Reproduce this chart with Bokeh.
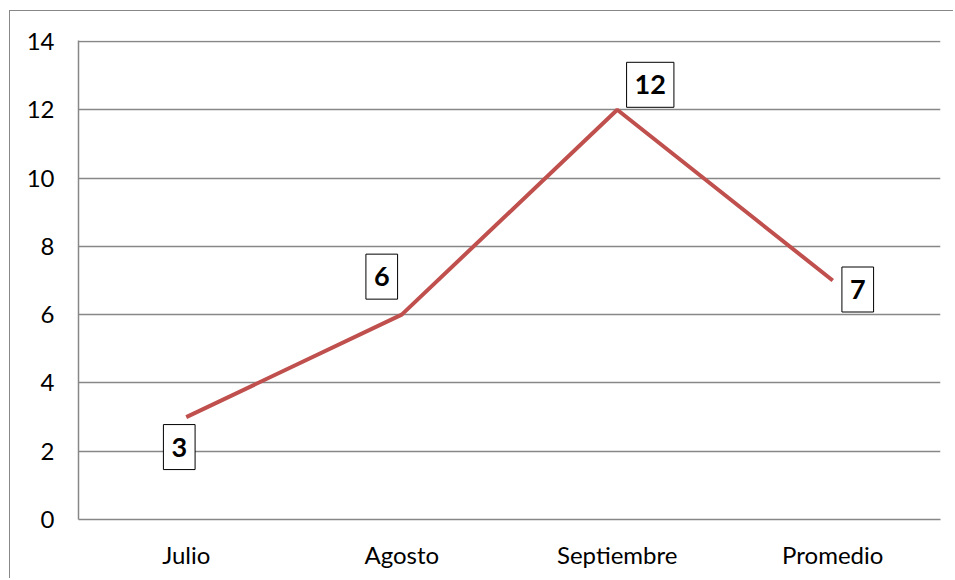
from bokeh.plotting import figure
from bokeh.models import Label, FixedTicker, Range1d
from bokeh.embed import file_html
from bokeh.resources import INLINE

categories = ["Julio", "Agosto", "Septiembre", "Promedio"]
values = [3, 6, 12, 7]
y_ticks = [0, 2, 4, 6, 8, 10, 12, 14]

FONT = "Lato"

p = figure(x_range=categories, y_range=Range1d(0, 14.03),
           width=944, height=568, output_backend="svg", toolbar_location=None,
           min_border_left=68, min_border_top=29, min_border_right=14, min_border_bottom=60)
p.styles = {"border-left": "1px solid #888888", "border-top": "1px solid #888888",
            "margin-left": "9px", "margin-top": "10px"}
p.outline_line_color = None
p.background_fill_color = "white"
p.border_fill_color = "white"

p.line(categories, values, line_color="#C0504D", line_width=4)

p.yaxis.ticker = FixedTicker(ticks=y_ticks)
for ax in (p.xaxis, p.yaxis):
    ax.axis_line_color = "#878787"
    ax.axis_line_width = 1.5
    ax.major_tick_in = 0
    ax.major_tick_out = 0
    ax.minor_tick_in = 0
    ax.minor_tick_out = 0
    ax.major_label_text_font = FONT
    ax.major_label_text_font_size = "24px"
    ax.major_label_text_color = "black"
p.yaxis.major_label_standoff = 24
p.xaxis.major_label_standoff = 20
p.xgrid.grid_line_color = None
p.ygrid.grid_line_color = "#878787"
p.ygrid.grid_line_width = 1.5

offsets = [(-7, -30), (-20, 38), (33, 25), (25, -9)]
for i, (cat, v, (dx, dy)) in enumerate(zip(categories, values, offsets)):
    p.add_layout(Label(x=i + 0.5, y=v, text=str(v), x_offset=dx, y_offset=dy,
                       text_align="center", text_baseline="middle",
                       text_font=FONT, text_font_style="bold", text_font_size="27px",
                       text_color="black",
                       border_line_color="black", border_line_width=1,
                       background_fill_color="white",
                       padding={"left": 8, "right": 8, "top": 13, "bottom": 13}))

open("out.html", "w").write(file_html(p, INLINE))
